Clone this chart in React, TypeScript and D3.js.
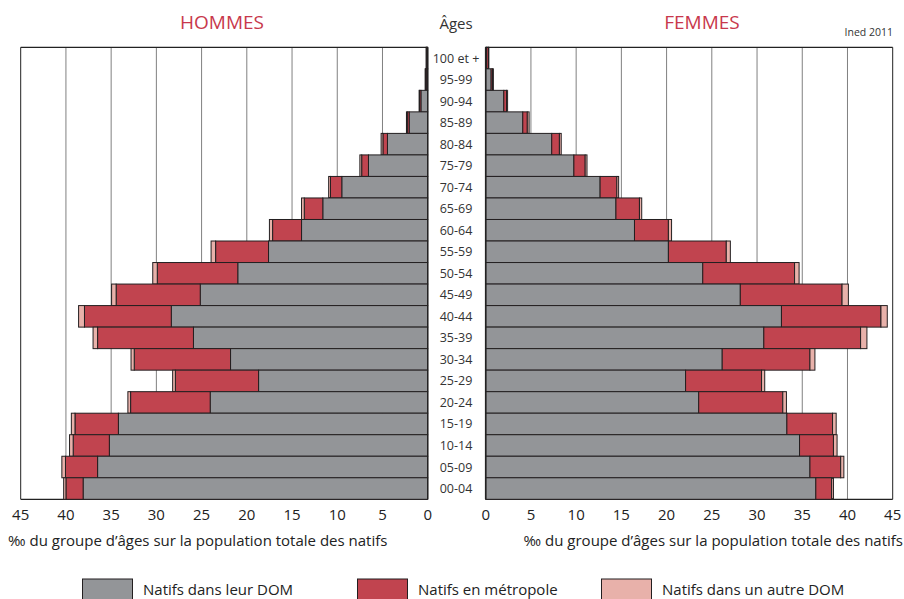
import React from "react";
import * as d3 from "d3";

const ages = ["100 et +","95-99","90-94","85-89","80-84","75-79","70-74","65-69","60-64","55-59","50-54","45-49","40-44","35-39","30-34","25-29","20-24","15-19","10-14","05-09","00-04"];

// Hommes (‰)
const hDom = [0.05,0.15,0.75,2.05,4.45,6.55,9.5,11.6,13.95,17.6,21.0,25.15,28.35,25.9,21.8,18.7,24.05,34.2,35.2,36.5,38.1];
const hMet = [0.1,0.1,0.15,0.2,0.5,0.75,1.25,2.05,3.2,5.85,8.9,9.3,9.6,10.6,10.65,9.2,8.8,4.8,4.0,3.55,1.9];
const hAutre = [0.02,0.03,0.05,0.1,0.2,0.2,0.2,0.3,0.35,0.5,0.5,0.5,0.65,0.5,0.35,0.3,0.3,0.4,0.4,0.4,0.25];

// Femmes (‰)
const fDom = [0.1,0.6,2.0,4.1,7.3,9.75,12.65,14.4,16.45,20.2,24.0,28.15,32.7,30.75,26.15,22.1,23.55,33.3,34.7,35.85,36.5];
const fMet = [0.2,0.15,0.3,0.5,0.85,1.25,1.85,2.6,3.75,6.4,10.15,11.25,11.0,10.7,9.7,8.4,9.3,5.05,3.75,3.4,1.75];
const fAutre = [0.05,0.1,0.12,0.2,0.2,0.2,0.2,0.25,0.35,0.45,0.5,0.7,0.7,0.7,0.55,0.35,0.4,0.4,0.4,0.35,0.2];

const ticks = [0,5,10,15,20,25,30,35,40,45];
const seriesNames = ["Natifs dans leur DOM","Natifs en métropole","Natifs dans un autre DOM"];
const colors = ["#939598","#c1444f","#e8b1aa"];

const FONT = "'Open Sans', 'DejaVu Sans', sans-serif";

export default function App() {
  const top = 47.3, bottom = 499.3;
  const xL = d3.scaleLinear().domain([0,45]).range([427.7,20.7]);
  const xR = d3.scaleLinear().domain([0,45]).range([485.7,892.7]);
  const y = d3.scaleBand<string>().domain(ages).range([top,bottom]).padding(0);

  const stack = (a: number[], b: number[], c: number[]) =>
    ages.map((age, i) => {
      const v = [a[i], b[i], c[i]];
      let s = 0;
      return v.map((val, k) => { const seg = { age, k, x0: s, x1: s + val }; s += val; return seg; });
    }).flat();

  const hSegs = stack(hDom, hMet, hAutre);
  const fSegs = stack(fDom, fMet, fAutre);
  const bw = y.bandwidth();

  const panel = (x: d3.ScaleLinear<number, number>, segs: any[], side: "L"|"R") => {
    const xa = x(45), xb = x(0);
    const lo = Math.min(xa, xb), hi = Math.max(xa, xb);
    return (
      <g>
        {ticks.map(t => (
          <line key={"g"+t} x1={x(t)} x2={x(t)} y1={top} y2={bottom}
            stroke={t === 0 || t === 45 ? "#222" : "#808080"} strokeWidth={1} />
        ))}
        <line x1={lo} x2={hi} y1={top} y2={top} stroke="#222" strokeWidth={1.2} />
        <line x1={lo} x2={hi} y1={bottom} y2={bottom} stroke="#222" strokeWidth={1.2} />
        {segs.map((s, i) => {
          const a = x(s.x0), b = x(s.x1);
          return (
            <rect key={i} x={Math.min(a,b)} width={Math.abs(b-a)} y={y(s.age)} height={bw}
              fill={colors[s.k]} stroke="#231f20" strokeWidth={1} />
          );
        })}
        <line x1={xb} x2={xb} y1={top} y2={bottom} stroke="#222" strokeWidth={side === "R" ? 1.6 : 1.2} />
        {ticks.map(t => (
          <text key={"t"+t} x={x(t)} y={519.5} textAnchor="middle" fontSize={15} fill="#222">{t}</text>
        ))}
      </g>
    );
  };

  const legendX = [82.5, 357.5, 601.5];

  return (
    <svg width={904} height={599} style={{ position: "absolute", left: 0, top: 0, fontFamily: FONT }}>
      <rect width={904} height={599} fill="#fff" />
      <text x={222} y={29} textAnchor="middle" fontSize={19} fill="#c8384c">HOMMES</text>
      <text x={456} y={29} textAnchor="middle" fontSize={15} fill="#333">Âges</text>
      <text x={702} y={29} textAnchor="middle" fontSize={19} fill="#c8384c">FEMMES</text>
      <text x={893} y={36} textAnchor="end" fontSize={10.5} fill="#333">Ined 2011</text>

      {panel(xL, hSegs, "L")}
      {panel(xR, fSegs, "R")}

      {ages.map(a => (
        <text key={a} x={456} y={(y(a) as number) + bw/2 + 4.5} textAnchor="middle" fontSize={12.5} fill="#333">{a}</text>
      ))}

      <text x={8} y={546} fontSize={15} fill="#222">‰ du groupe d’âges sur la population totale des natifs</text>
      <text x={903} y={546} textAnchor="end" fontSize={15} fill="#222">‰ du groupe d’âges sur la population totale des natifs</text>

      {seriesNames.map((n, i) => (
        <g key={n}>
          <rect x={legendX[i]} y={579} width={50} height={24} fill={colors[i]} stroke="#231f20" strokeWidth={1} />
          <text x={legendX[i] + 60.5} y={595} fontSize={15} fill="#222">{n}</text>
        </g>
      ))}
    </svg>
  );
}
